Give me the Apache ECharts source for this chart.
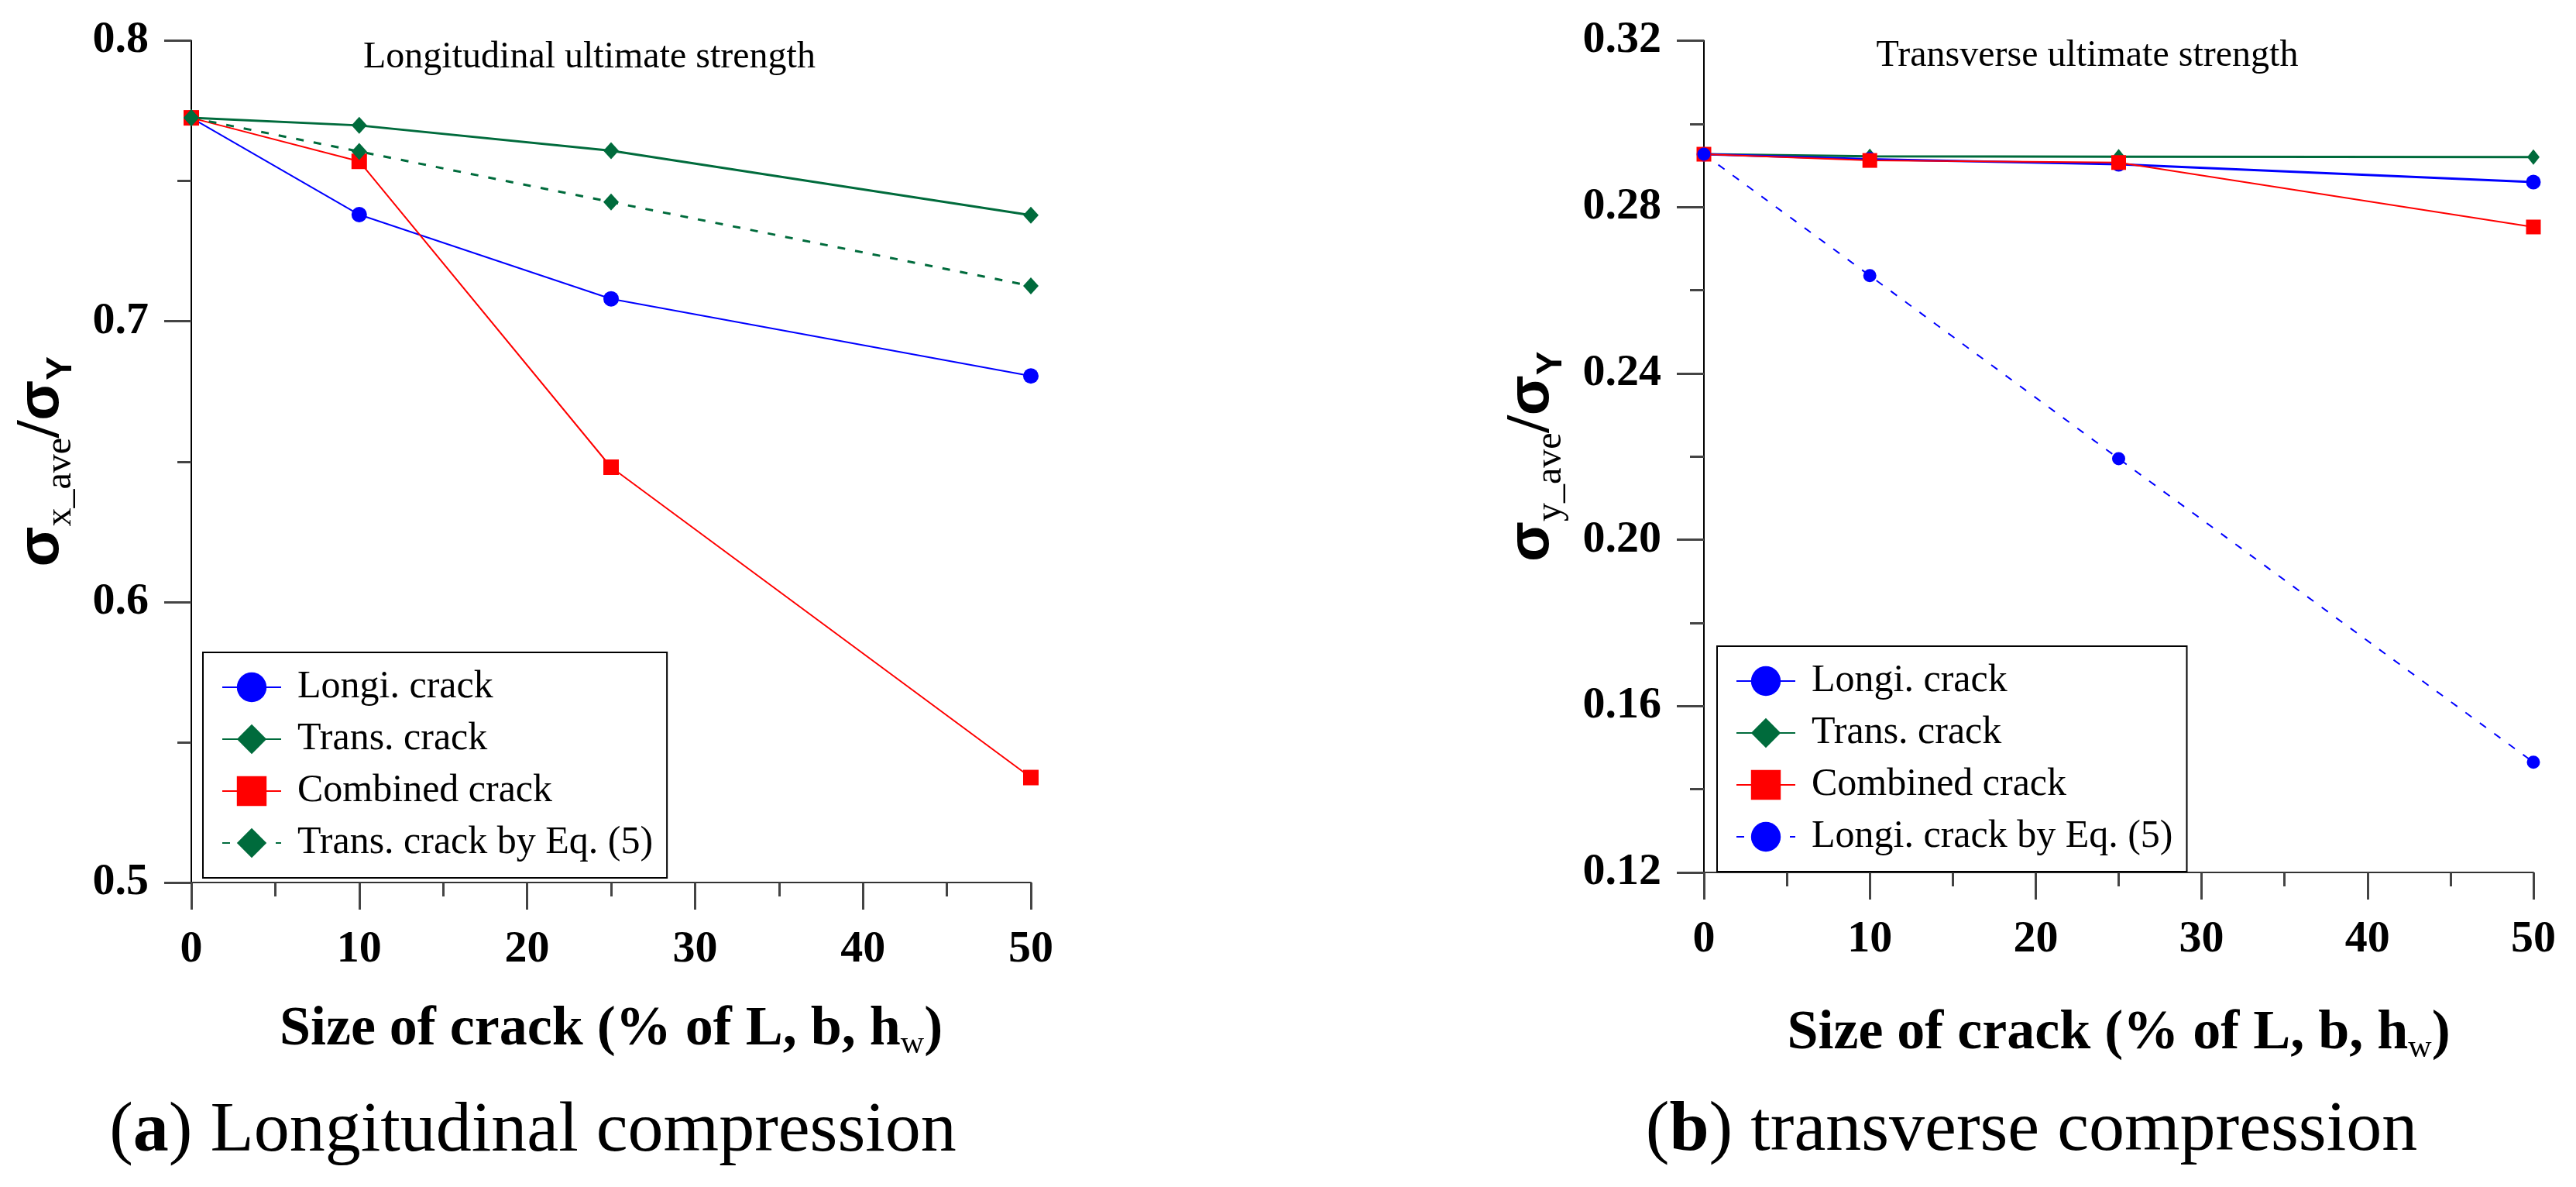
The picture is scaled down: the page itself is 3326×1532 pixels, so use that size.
<!DOCTYPE html>
<html>
<head>
<meta charset="utf-8">
<script src="https://cdn.jsdelivr.net/npm/echarts@6/dist/echarts.min.js"></script>
<style>
  html, body { margin: 0; padding: 0; background: #fff; }
  #chart { width: 3326px; height: 1532px; }
</style>
</head>
<body>
<div id="chart"></div>
<script>
// crack size (% of L, b, hw)
var crackSize = [0, 10, 25, 50];

// (a) longitudinal compression
var longiA = [0.7725, 0.738, 0.708, 0.6805];
var transA = [0.7725, 0.7698, 0.7608, 0.7378];
var combinedA = [0.7725, 0.757, 0.648, 0.5374];
var transEqA = [0.7725, 0.7605, 0.7425, 0.7126];

// (b) transverse compression
var longiB = [0.2927, 0.2915, 0.2903, 0.286];
var transB = [0.2927, 0.2922, 0.2921, 0.292];
var combinedB = [0.2927, 0.2912, 0.2907, 0.2752];
var longiEqB = [0.2927, 0.2635, 0.2195, 0.1465];

var legendA = ['Longi. crack', 'Trans. crack', 'Combined crack', 'Trans. crack by Eq. (5)'];
var legendB = ['Longi. crack', 'Trans. crack', 'Combined crack', 'Longi. crack by Eq. (5)'];

var BLUE = '#0000ff', GREEN = '#006b3c', RED = '#ff0000';
var SERIF = '"Liberation Serif", "Times New Roman", serif';

function pairs(ys) {
  return crackSize.map(function (x, i) { return [x, ys[i]]; });
}

function xAxisOf(idx) {
  return {
    type: 'value', gridIndex: idx, min: 0, max: 50, interval: 10,
    axisLine: { lineStyle: { color: '#333', width: 2 } },
    axisTick: { length: 35, lineStyle: { color: '#444', width: 3 } },
    minorTick: { show: true, splitNumber: 2, length: 18, lineStyle: { color: '#444', width: 3 } },
    splitLine: { show: false },
    axisLabel: { margin: 58, color: '#000', fontFamily: SERIF, fontWeight: 'bold', fontSize: 58 },
    name: '{b|Size of crack (% of L, b, h}{w|w}{b|)}',
    nameLocation: 'middle', nameGap: idx === 0 ? 150 : 168,
    nameTextStyle: {
      rich: {
        b: { fontFamily: SERIF, fontWeight: 'bold', fontSize: 72, color: '#000', lineHeight: 80, verticalAlign: 'middle' },
        w: { fontFamily: SERIF, fontSize: 42, color: '#000', lineHeight: 42, verticalAlign: 'bottom' }
      }
    }
  };
}

function yAxisOf(idx, min, max, interval, digits, sub, gap) {
  return {
    type: 'value', gridIndex: idx, min: min, max: max, interval: interval,
    axisLine: { show: true, lineStyle: { color: '#000', width: 2 } },
    axisTick: { show: true, length: 35, lineStyle: { color: '#444', width: 3 } },
    minorTick: { show: true, splitNumber: 2, length: 18, lineStyle: { color: '#444', width: 3 } },
    splitLine: { show: false },
    axisLabel: {
      margin: 55, color: '#000', fontFamily: SERIF, fontWeight: 'bold', fontSize: 58,
      formatter: function (v) { return v.toFixed(digits); }
    },
    name: '{s|σ}{sub|' + sub + '}{sl|/}{s|σ}{sub2|Y}',
    nameLocation: 'middle', nameRotate: 90, nameGap: gap,
    nameTextStyle: {
      rich: {
        s: { fontFamily: '"Liberation Sans", Arial, sans-serif', fontWeight: 'bold', fontSize: 76, color: '#000', lineHeight: 96, verticalAlign: 'middle' },
        sl: { fontFamily: SERIF, fontWeight: 'bold', fontSize: 80, color: '#000', lineHeight: 96, verticalAlign: 'middle' },
        sub: { fontFamily: SERIF, fontSize: 48, color: '#000', lineHeight: 46, verticalAlign: 'bottom' },
        sub2: { fontFamily: '"Liberation Sans", Arial, sans-serif', fontWeight: 'bold', fontSize: 46, color: '#000', lineHeight: 46, verticalAlign: 'bottom' }
      }
    }
  };
}

function lineSeries(name, ys, idx, color, symbol, size, width, dashed) {
  return {
    name: name, type: 'line', xAxisIndex: idx, yAxisIndex: idx,
    data: pairs(ys), symbol: symbol, symbolSize: size, showSymbol: true,
    color: color,
    itemStyle: { color: color },
    lineStyle: { color: color, width: width, type: dashed ? [10, 13] : 'solid' },
    z: 3, animation: false
  };
}

function legendOf(data, left, top) {
  return {
    data: data, orient: 'vertical', left: left, top: top,
    backgroundColor: '#fff', borderColor: '#000', borderWidth: 2,
    padding: [20, 18, 20, 24], itemGap: 17, itemWidth: 76, itemHeight: 48,
    textStyle: { fontFamily: SERIF, fontSize: 50, color: '#000', padding: [0, 0, 0, 16] },
    selectedMode: false
  };
}

function caption(text, x, y, font) {
  return { type: 'text', x: x, y: y, style: { text: text, font: font, fill: '#000', align: 'center', verticalAlign: 'middle' } };
}

var capRich = {
  p: { fontFamily: SERIF, fontSize: 92, fill: '#000' },
  a: { fontFamily: SERIF, fontSize: 92, fontWeight: 'bold', fill: '#000' }
};

var chart = echarts.init(document.getElementById('chart'));
chart.setOption({
  backgroundColor: '#fff',
  animation: false,
  grid: [
    { left: 247, top: 52.5, width: 1084, height: 1086.5 },
    { left: 2200, top: 52.5, width: 1071, height: 1073.5 }
  ],
  xAxis: [xAxisOf(0), xAxisOf(1)],
  yAxis: [
    yAxisOf(0, 0.5, 0.8, 0.1, 1, 'x_ave', 145),
    yAxisOf(1, 0.12, 0.32, 0.04, 2, 'y_ave', 174)
  ],
  legend: [legendOf(legendA, 262, 842), legendOf(legendB, 2217, 834)],
  series: [
    lineSeries('Longi. crack', longiA, 0, BLUE, 'circle', 20, 2, false),
    lineSeries('Combined crack', combinedA, 0, RED, 'rect', 20, 2, false),
    lineSeries('Trans. crack by Eq. (5)', transEqA, 0, GREEN, 'diamond', [20, 22], 3, true),
    lineSeries('Trans. crack', transA, 0, GREEN, 'diamond', [20, 22], 3, false),
    lineSeries('Trans. crack', transB, 1, GREEN, 'diamond', [16, 20], 3, false),
    lineSeries('Longi. crack', longiB, 1, BLUE, 'circle', 19, 3, false),
    lineSeries('Combined crack', combinedB, 1, RED, 'rect', 19, 2, false),
    lineSeries('Longi. crack by Eq. (5)', longiEqB, 1, BLUE, 'circle', 17, 2, true)
  ],
  graphic: [
    caption('Longitudinal ultimate strength', 761, 74, '48px ' + SERIF),
    caption('Transverse ultimate strength', 2695, 72, '48px ' + SERIF),
    {
      type: 'text', x: 688, y: 1461,
      style: { text: '{p|(}{a|a}{p|) Longitudinal compression}', align: 'center', verticalAlign: 'middle', rich: capRich }
    },
    {
      type: 'text', x: 2623, y: 1460,
      style: { text: '{p|(}{a|b}{p|) transverse compression}', align: 'center', verticalAlign: 'middle', rich: capRich }
    }
  ]
});
</script>
</body>
</html>
